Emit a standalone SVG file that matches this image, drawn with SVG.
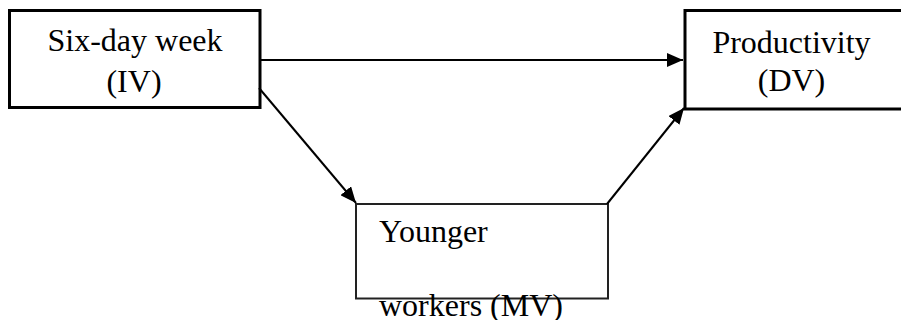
<svg xmlns="http://www.w3.org/2000/svg" width="901" height="320" viewBox="0 0 901 320">
  <style>
    .box { fill: #ffffff; stroke: #000000; stroke-width: 3; }
    .box2 { fill: #ffffff; stroke: #222222; stroke-width: 2; }
    .lbl { font-family: "Liberation Serif", "Times New Roman", serif; font-size: 32px; fill: #000000; }
    .edge { fill: none; stroke: #000000; stroke-width: 2; }
  </style>
  <defs>
    <marker id="arrow" markerUnits="userSpaceOnUse" markerWidth="17" markerHeight="14" refX="16" refY="7" orient="auto">
      <path d="M0,0 L16,7 L0,14 z" fill="#000000"/>
    </marker>
  </defs>
  <rect x="0" y="0" width="901" height="320" fill="#ffffff"/>
  <g id="node-iv">
    <rect class="box" x="9.5" y="10.5" width="250.5" height="97"/>
    <text class="lbl" x="135" y="51" text-anchor="middle">Six-day week</text>
    <text class="lbl" x="134" y="92" text-anchor="middle">(IV)</text>
  </g>
  <g id="node-dv">
    <rect class="box" x="685" y="10.5" width="220" height="98.5"/>
    <text class="lbl" x="791.5" y="53" text-anchor="middle">Productivity</text>
    <text class="lbl" x="791.5" y="91" text-anchor="middle">(DV)</text>
  </g>
  <g id="node-mv">
    <rect class="box2" x="356" y="204" width="252" height="94.5"/>
    <text class="lbl" x="379" y="242">Younger</text>
    <text class="lbl" x="379" y="316">workers (MV)</text>
  </g>
  <g id="connectors">
    <line class="edge" x1="260" y1="60" x2="683" y2="60" marker-end="url(#arrow)"/>
    <line class="edge" x1="259" y1="88" x2="356" y2="203" marker-end="url(#arrow)"/>
    <line class="edge" x1="607" y1="204" x2="684" y2="108" marker-end="url(#arrow)"/>
  </g>
</svg>
